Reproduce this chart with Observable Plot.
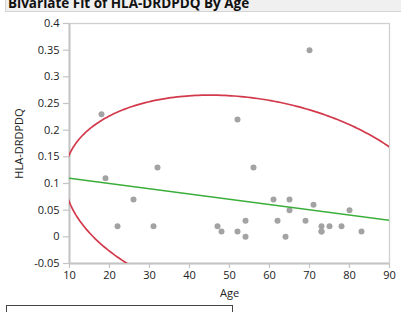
<!DOCTYPE html>
<html><head><meta charset="utf-8">
<script src="https://cdn.jsdelivr.net/npm/d3@7"></script>
<script src="https://cdn.jsdelivr.net/npm/@observablehq/plot@0.6"></script>
<style>
html,body{margin:0;padding:0;background:#fff;}
body{width:401px;height:312px;overflow:hidden;position:relative;font-family:"Open Sans","Noto Sans",sans-serif;}
#title{position:absolute;left:5px;top:-6px;width:396px;height:18px;background:#f0f0f0;border-left:1px solid #d4d4d4;border-bottom:1px solid #d4d4d4;font-weight:bold;font-size:13.5px;line-height:18px;color:#111;padding-left:2px;box-sizing:border-box;white-space:nowrap;}
#chart{position:absolute;left:0;top:0;}
#box{position:absolute;left:6px;top:305px;width:227px;height:30px;border:1px solid #444;box-sizing:border-box;}
</style>
</head><body>
<div id="chart"></div>
<div id="title">Bivariate Fit of HLA-DRDPDQ By Age</div>
<div id="box"></div>
<script>
const ages   = [18, 19, 22, 26, 31, 32, 47, 48, 52, 52, 54, 54, 56, 61, 62, 64, 65, 65, 69, 70, 71, 73, 73, 73, 75, 78, 80, 83];
const values = [0.23, 0.11, 0.02, 0.07, 0.02, 0.13, 0.02, 0.01, 0.22, 0.01, 0.00, 0.03, 0.13, 0.07, 0.03, 0.00, 0.05, 0.07, 0.03, 0.35, 0.06, 0.02, 0.01, 0.01, 0.02, 0.02, 0.05, 0.01];
const xTicks = [10, 20, 30, 40, 50, 60, 70, 80, 90];
const yTicks = [-0.05, 0, 0.05, 0.1, 0.15, 0.2, 0.25, 0.3, 0.35, 0.4];
const xLabel = "Age";
const yLabel = "HLA-DRDPDQ";

const data = ages.map((a, i) => ({age: a, value: values[i]}));

// Linear fit (least squares) computed from the data
const mx = d3.mean(ages), my = d3.mean(values);
const n = ages.length;
const sxy = d3.sum(ages, (a, i) => (a - mx) * (values[i] - my)) / (n - 1);
const sxx = d3.variance(ages), syy = d3.variance(values);
const slope = sxy / sxx, intercept = my - slope * mx;
const xDomain = [xTicks[0], xTicks[xTicks.length - 1]];
const fitLine = xDomain.map(x => ({age: x, value: intercept + slope * x}));

// 95% bivariate normal density ellipse computed from the data
const sx = Math.sqrt(sxx), sy = Math.sqrt(syy), r = sxy / (sx * sy);
const c = Math.sqrt(-2 * Math.log(1 - 0.95));
const ellipse = d3.range(0, 361, 1).map(deg => {
  const t = deg * Math.PI / 180;
  return {
    age: mx + c * sx * Math.cos(t),
    value: my + c * sy * (r * Math.cos(t) + Math.sqrt(1 - r * r) * Math.sin(t))
  };
});

const axisColor = "#c4c4c4";
const fmt = d => String(+d.toFixed(2));

const chart = Plot.plot({
  width: 401,
  height: 312,
  marginLeft: 69,
  marginRight: 12,
  marginTop: 23,
  marginBottom: 49,
  style: {fontFamily: '"Open Sans","Noto Sans",sans-serif', fontSize: "11px", color: "#222", background: "transparent"},
  x: {domain: xDomain, label: null},
  y: {domain: [yTicks[0], yTicks[yTicks.length - 1]], label: null},
  marks: [
    Plot.axisX({ticks: xTicks, tickSize: 5, tickPadding: 3, stroke: axisColor, strokeWidth: 1.2, label: null, fontSize: 11, fill: "#222"}),
    Plot.axisY({ticks: yTicks, tickSize: 6, tickPadding: 4, stroke: axisColor, strokeWidth: 1.2, label: null, tickFormat: fmt, fontSize: 11, fill: "#222"}),
    Plot.frame({stroke: "#d0d0d0", strokeWidth: 1.3}),
    Plot.ruleX([xDomain[0]], {stroke: axisColor, strokeWidth: 2}),
    Plot.ruleY([yTicks[0]], {stroke: axisColor, strokeWidth: 2}),
    Plot.dot(data, {x: "age", y: "value", r: 3, fill: "#a3a3a3", stroke: "none"}),
    Plot.line(fitLine, {x: "age", y: "value", stroke: "#3aae3a", strokeWidth: 1.7, clip: true}),
    Plot.line(ellipse, {x: "age", y: "value", stroke: "#d23a4c", strokeWidth: 1.7, clip: true, curve: "linear"}),
    Plot.text([xLabel], {frameAnchor: "bottom", dy: 30, text: d => d, fontSize: 11, fill: "#222", lineAnchor: "middle"}),
    Plot.text([yLabel], {frameAnchor: "left", dx: -50, text: d => d, rotate: -90, fontSize: 11, fill: "#222", textAnchor: "middle", lineAnchor: "middle"})
  ]
});
document.getElementById("chart").appendChild(chart);
</script>
</body></html>
